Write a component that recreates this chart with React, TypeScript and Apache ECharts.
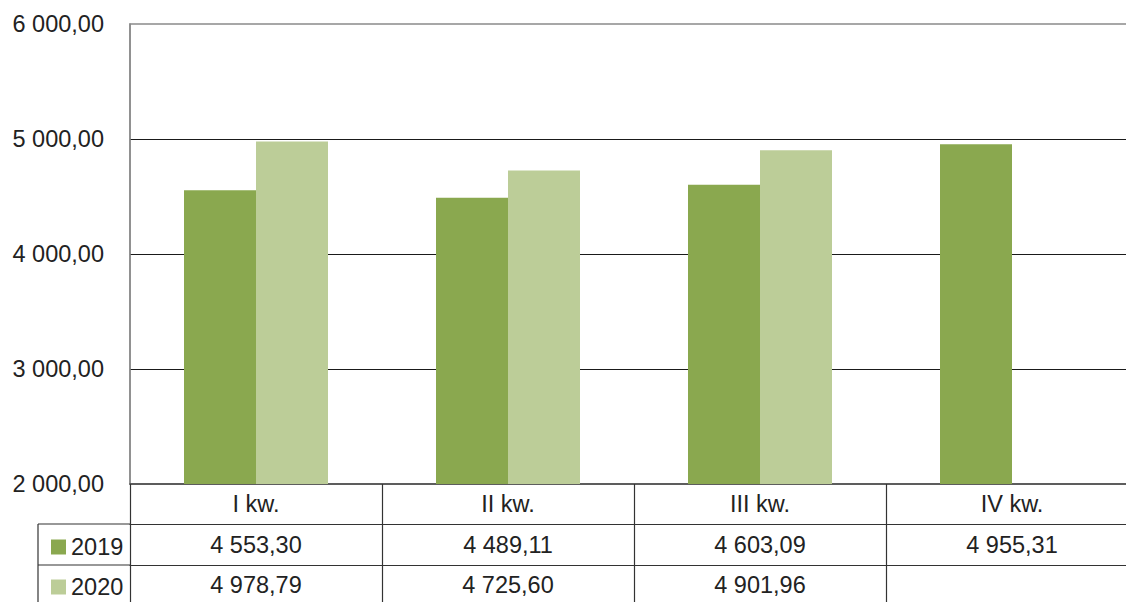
import React, { useEffect, useRef } from "react";
import * as echarts from "echarts";

const categories = ["I kw.", "II kw.", "III kw.", "IV kw."];
const seriesNames = ["2019", "2020"];
const values2019 = [4553.3, 4489.11, 4603.09, 4955.31];
const values2020: (number | null)[] = [4978.79, 4725.6, 4901.96, null];
const yTicks = { min: 2000, max: 6000, interval: 1000 };
const colors = ["#8aa84f", "#bccd98"];

const FONT = "'Liberation Sans', Arial, sans-serif";
const FS = 23.5;
const TXT = "#222222";

function fmt(v: number | null | undefined): string {
  if (v === null || v === undefined || isNaN(v as number)) return "";
  const [i, d] = (v as number).toFixed(2).split(".");
  const withSp = i.replace(/\B(?=(\d{3})+(?!\d))/g, " ");
  return withSp + "," + d;
}

export default function App() {
  const ref = useRef<HTMLDivElement>(null);
  useEffect(() => {
    if (!ref.current) return;
    const chart = echarts.init(ref.current, undefined, { renderer: "svg" });
    const lineCol = "#333333";
    const legendBase = {
      left: 46,
      icon: "rect",
      itemWidth: 15,
      itemHeight: 15,
      textStyle: { fontSize: FS, color: TXT, fontFamily: FONT, lineHeight: 24 },
    };
    chart.setOption({
      animation: false,
      textStyle: { fontFamily: FONT },
      grid: {
        left: 130,
        top: 24,
        width: 1008,
        height: 460,
        show: true,
        borderColor: "#8a8a8a",
        borderWidth: 1.5,
        backgroundColor: "transparent",
      },
      legend: [
        { ...legendBase, top: 530, data: [seriesNames[0]] },
        { ...legendBase, top: 570, data: [seriesNames[1]] },
      ],
      xAxis: [
        {
          type: "category",
          data: categories,
          position: "bottom",
          axisLine: { show: true, lineStyle: { color: "#444", width: 1.5 } },
          axisTick: { show: true, length: 118, lineStyle: { color: lineCol, width: 1.2 } },
          axisLabel: { fontSize: FS, color: TXT, margin: 8, fontFamily: FONT },
        },
        {
          type: "category",
          data: categories,
          position: "bottom",
          offset: 40,
          axisLine: { show: true, lineStyle: { color: lineCol, width: 1.2 } },
          axisTick: { show: false },
          axisLabel: {
            fontSize: FS,
            color: TXT,
            margin: 9,
            fontFamily: FONT,
            formatter: (_v: string, i: number) => fmt(values2019[i]),
          },
        },
        {
          type: "category",
          data: categories,
          position: "bottom",
          offset: 81,
          axisLine: { show: true, lineStyle: { color: lineCol, width: 1.2 } },
          axisTick: { show: false },
          axisLabel: {
            fontSize: FS,
            color: TXT,
            margin: 8,
            fontFamily: FONT,
            formatter: (_v: string, i: number) => fmt(values2020[i]),
          },
        },
      ],
      yAxis: {
        type: "value",
        min: yTicks.min,
        max: yTicks.max,
        interval: yTicks.interval,
        axisLine: { show: true, lineStyle: { color: "#8a8a8a", width: 1.5 } },
        axisTick: { show: false },
        axisLabel: {
          fontSize: FS,
          color: TXT,
          margin: 26,
          fontFamily: FONT,
          formatter: (v: number) => fmt(v),
        },
        splitLine: {
          show: true,
          showMinLine: false,
          showMaxLine: false,
          lineStyle: { color: "#1a1a1a", width: 1.2 },
        },
      },
      series: [
        {
          name: seriesNames[0],
          type: "bar",
          data: values2019,
          barWidth: 72,
          barGap: "0%",
          itemStyle: { color: colors[0] },
        },
        {
          name: seriesNames[1],
          type: "bar",
          data: values2020,
          barWidth: 72,
          barGap: "0%",
          itemStyle: { color: colors[1] },
        },
      ],
      graphic: [
        { type: "line", shape: { x1: 38, y1: 524, x2: 131, y2: 524 }, style: { stroke: lineCol, lineWidth: 1.2 } },
        { type: "line", shape: { x1: 38, y1: 565, x2: 131, y2: 565 }, style: { stroke: lineCol, lineWidth: 1.2 } },
        { type: "line", shape: { x1: 38, y1: 524, x2: 38, y2: 602 }, style: { stroke: lineCol, lineWidth: 1.2 } },
      ],
    });
    return () => chart.dispose();
  }, []);
  return (
    <div style={{ position: "fixed", left: 0, top: 0, width: 1126, height: 602, overflow: "hidden", background: "#fff" }}>
      <div ref={ref} style={{ width: 1140, height: 602 }} />
    </div>
  );
}
